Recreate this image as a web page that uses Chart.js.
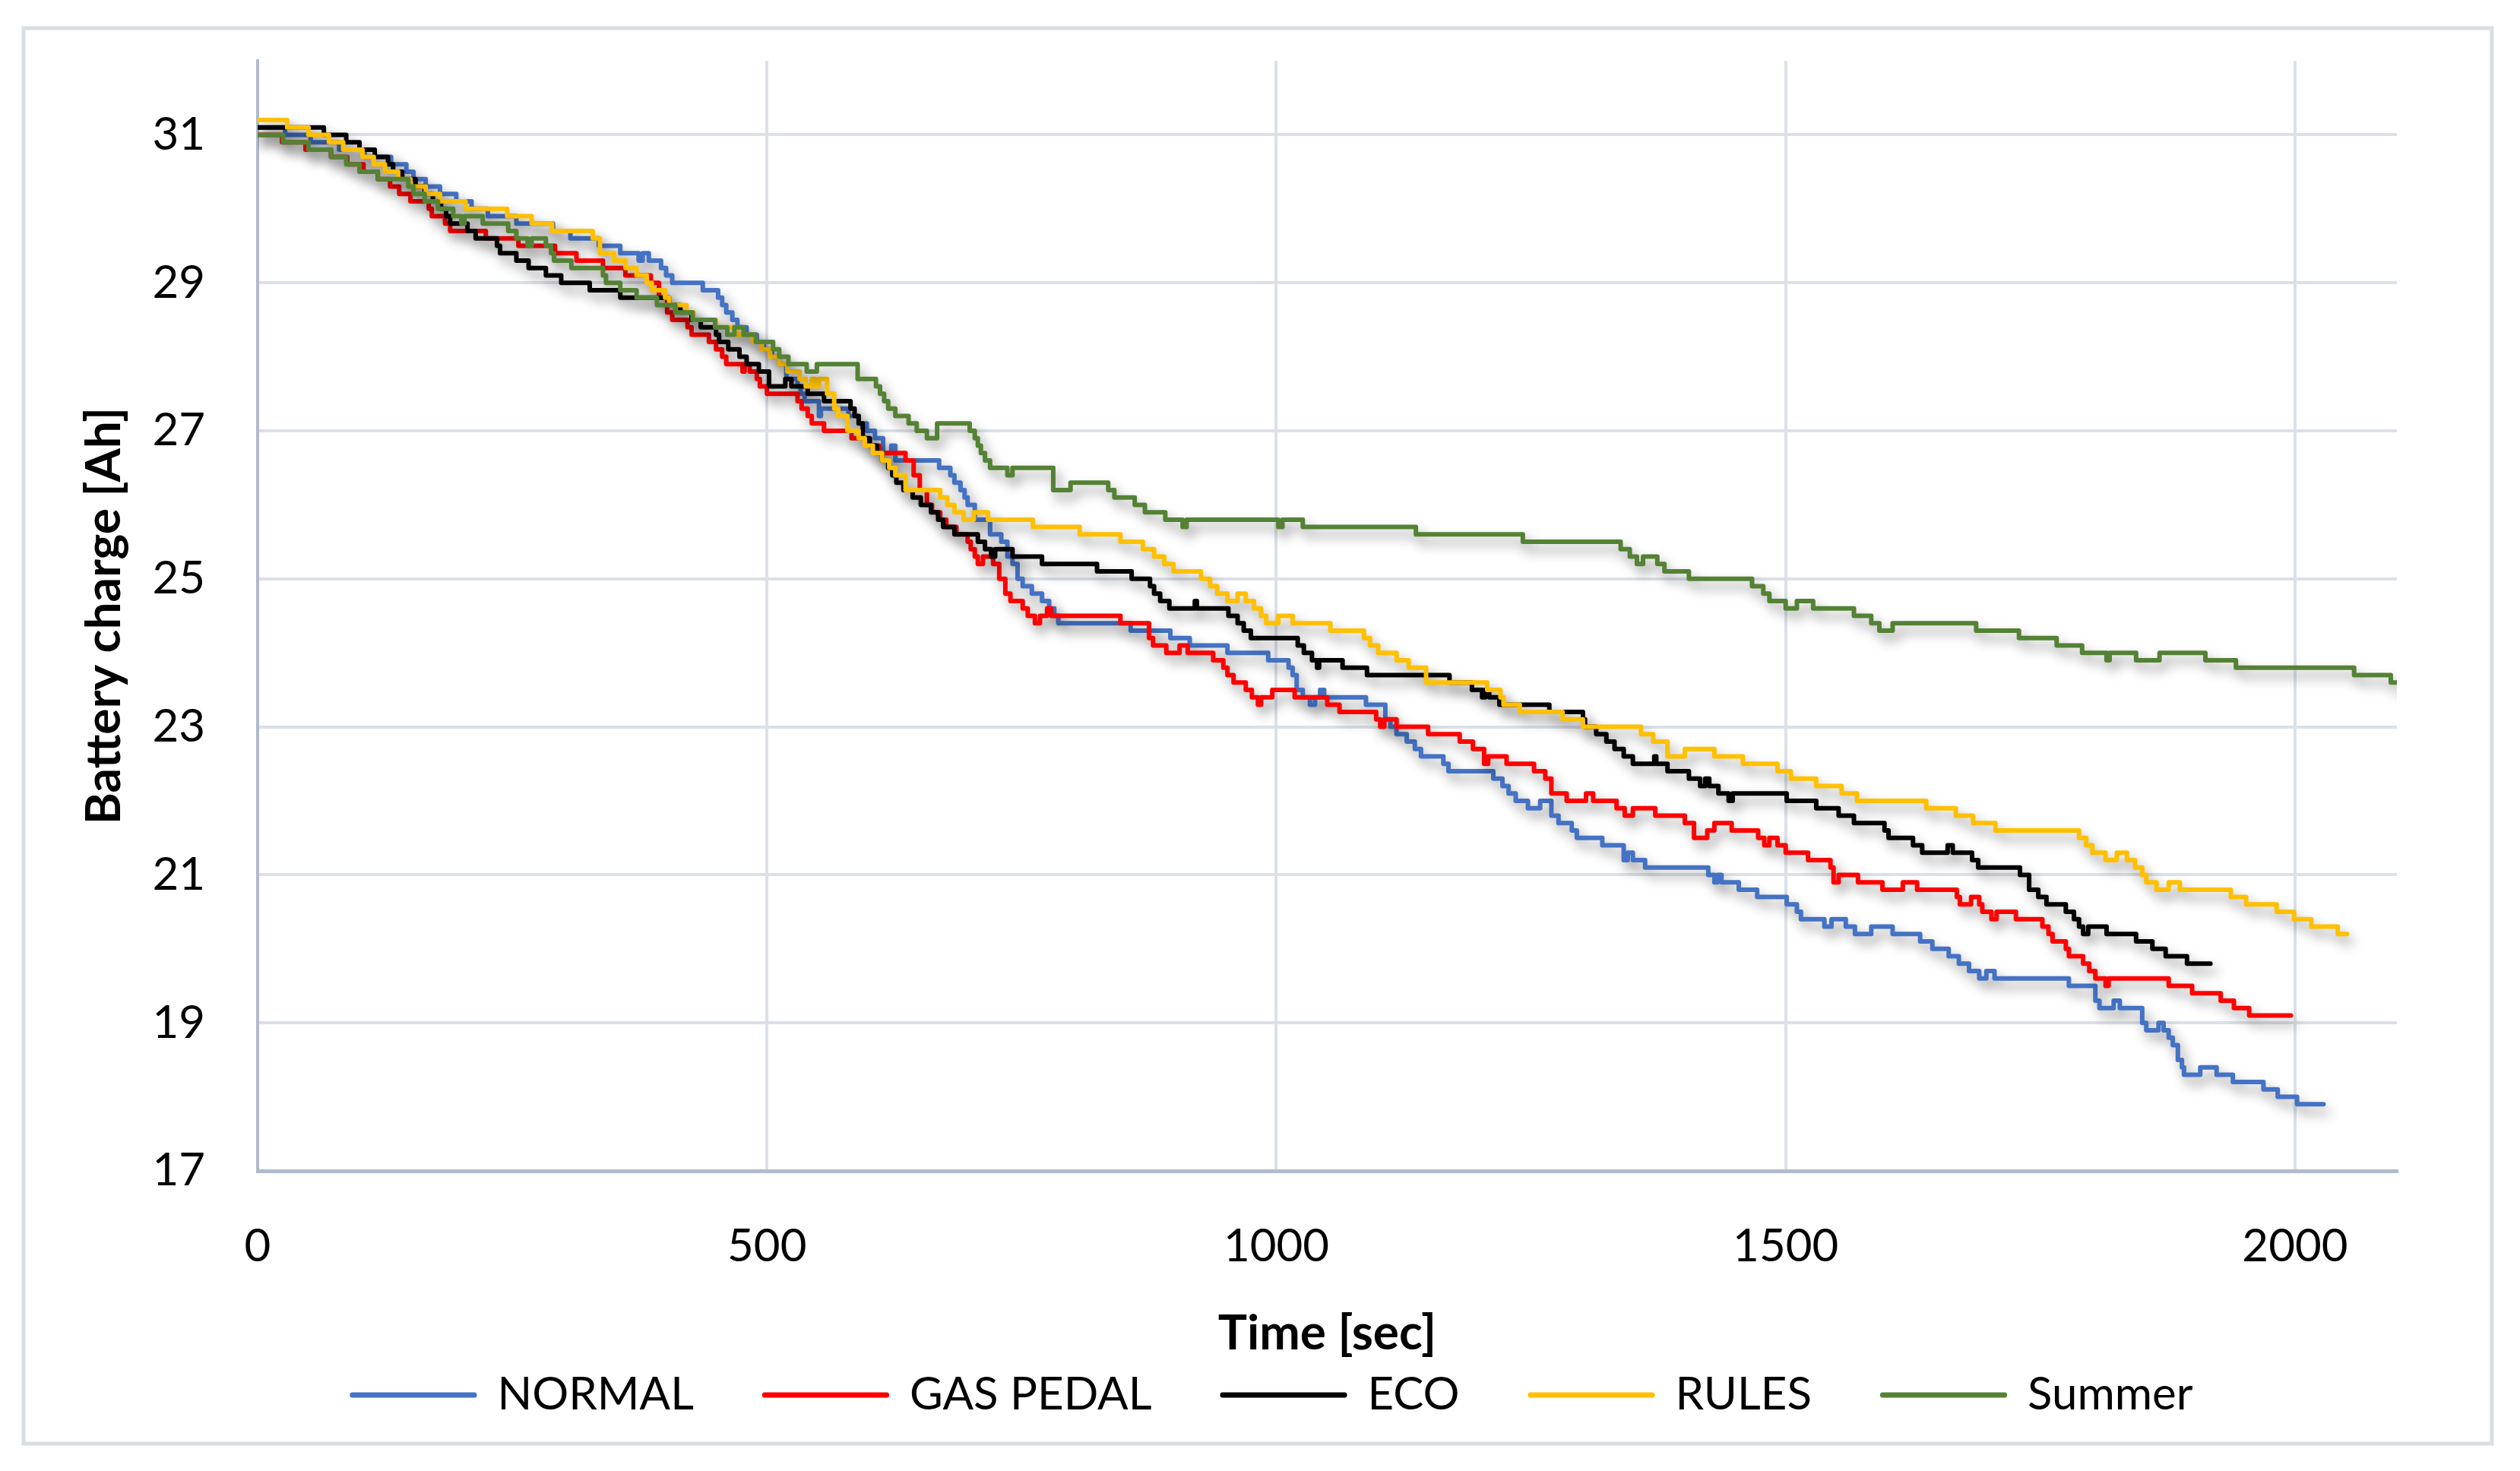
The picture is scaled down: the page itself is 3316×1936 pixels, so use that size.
<!DOCTYPE html>
<html lang="en">
<head>
<meta charset="UTF-8">
<title>Battery charge</title>
<script src="https://cdn.jsdelivr.net/npm/chart.js"></script>
<style>
  html, body { margin: 0; padding: 0; background: #fff; }
  #wrap { width: 3316px; height: 1936px; position: relative; }
</style>
</head>
<body>
<div id="wrap"><canvas id="batteryChart"></canvas></div>
<script>
// axis ticks
const xTicks = [0, 500, 1000, 1500, 2000];
const yTicks = [17, 19, 21, 23, 25, 27, 29, 31];

// NORMAL: time [sec] where the charge changes, and the new charge [Ah]
const normalT = [0, 27, 52, 80, 105, 131, 146, 153, 165, 179, 195, 210, 226, 254, 290, 307, 335, 356, 374, 378,
  384, 396, 401, 407, 437, 452, 456, 460, 466, 471, 480, 490, 497, 505, 512, 519, 530, 533, 537, 551,
  553, 580, 590, 598, 606, 614, 622, 626, 669, 680, 684, 690, 694, 697, 704, 719, 730, 736, 741, 746,
  751, 760, 770, 777, 782, 786, 857, 896, 915, 952, 992, 1012, 1016, 1020, 1026, 1033, 1038, 1043, 1047, 1088,
  1107, 1112, 1118, 1128, 1136, 1142, 1164, 1169, 1213, 1222, 1228, 1235, 1247, 1259, 1270, 1277, 1290, 1295, 1320, 1341,
  1345, 1350, 1362, 1424, 1430, 1433, 1437, 1454, 1472, 1501, 1511, 1515, 1538, 1545, 1559, 1568, 1584, 1605, 1632, 1644,
  1660, 1670, 1680, 1690, 1697, 1705, 1778, 1804, 1808, 1822, 1828, 1850, 1854, 1866, 1871, 1876, 1880, 1885, 1889, 1891,
  1907, 1923, 1939, 1969, 1983, 2002, 2028];
const normalV = [31.1, 31.0, 30.9, 30.8, 30.7, 30.6, 30.5, 30.4, 30.3, 30.2, 30.1, 30.0, 29.9, 29.8, 29.7, 29.6, 29.5, 29.4, 29.3, 29.4,
  29.3, 29.2, 29.1, 29.0, 28.9, 28.8, 28.7, 28.6, 28.5, 28.4, 28.3, 28.2, 28.1, 28.0, 27.9, 27.7, 27.6, 27.5, 27.4, 27.2,
  27.3, 27.2, 27.1, 27.0, 26.9, 26.7, 26.8, 26.6, 26.5, 26.4, 26.3, 26.2, 26.1, 26.0, 25.8, 25.6, 25.5, 25.3, 25.2, 25.0,
  24.9, 24.8, 24.7, 24.6, 24.5, 24.4, 24.3, 24.2, 24.1, 24.0, 23.9, 23.8, 23.7, 23.5, 23.4, 23.3, 23.4, 23.5, 23.4, 23.3,
  23.1, 23.0, 22.9, 22.8, 22.7, 22.6, 22.5, 22.4, 22.3, 22.2, 22.1, 22.0, 21.9, 22.0, 21.8, 21.7, 21.6, 21.5, 21.4, 21.2,
  21.3, 21.2, 21.1, 21.0, 20.9, 21.0, 20.9, 20.8, 20.7, 20.6, 20.5, 20.4, 20.3, 20.4, 20.3, 20.2, 20.3, 20.2, 20.1, 20.0,
  19.9, 19.8, 19.7, 19.6, 19.7, 19.6, 19.5, 19.3, 19.2, 19.3, 19.2, 19.0, 18.9, 19.0, 18.9, 18.8, 18.7, 18.5, 18.4, 18.3,
  18.4, 18.3, 18.2, 18.1, 18.0, 17.9, 17.9];

// GAS PEDAL
const gasT = [0, 24, 47, 72, 88, 104, 118, 130, 139, 150, 168, 171, 184, 189, 224, 256, 292, 313, 339, 361,
  386, 394, 402, 407, 422, 426, 443, 450, 456, 460, 476, 478, 483, 490, 493, 500, 530, 534, 540, 544,
  556, 583, 600, 610, 636, 644, 650, 657, 662, 670, 676, 686, 697, 700, 704, 707, 712, 722, 728, 734,
  739, 751, 756, 763, 768, 775, 779, 847, 875, 879, 892, 905, 913, 938, 948, 952, 958, 970, 976, 982,
  985, 996, 1018, 1050, 1062, 1098, 1102, 1106, 1118, 1149, 1180, 1193, 1204, 1208, 1226, 1253, 1264, 1270, 1285, 1304,
  1311, 1334, 1342, 1350, 1372, 1401, 1410, 1423, 1430, 1447, 1473, 1479, 1484, 1492, 1500, 1522, 1544, 1547, 1552, 1571,
  1595, 1615, 1629, 1668, 1671, 1682, 1690, 1693, 1702, 1707, 1726, 1752, 1758, 1762, 1775, 1778, 1792, 1798, 1804, 1814,
  1817, 1876, 1899, 1927, 1940, 1955, 1996];
const gasV = [31.0, 30.9, 30.8, 30.7, 30.6, 30.5, 30.4, 30.3, 30.2, 30.1, 30.0, 29.9, 29.8, 29.7, 29.6, 29.5, 29.4, 29.3, 29.2, 29.1,
  29.0, 28.8, 28.6, 28.5, 28.4, 28.3, 28.2, 28.1, 28.0, 27.9, 27.8, 27.9, 27.8, 27.7, 27.6, 27.5, 27.4, 27.3, 27.2, 27.1,
  27.0, 26.9, 26.8, 26.7, 26.6, 26.4, 26.2, 26.0, 25.9, 25.8, 25.7, 25.6, 25.5, 25.4, 25.3, 25.2, 25.3, 25.2, 25.0, 24.8,
  24.7, 24.6, 24.5, 24.4, 24.5, 24.6, 24.5, 24.4, 24.2, 24.1, 24.0, 24.1, 24.0, 23.9, 23.8, 23.7, 23.6, 23.5, 23.4, 23.3,
  23.4, 23.5, 23.4, 23.3, 23.2, 23.1, 23.0, 23.1, 23.0, 22.9, 22.8, 22.7, 22.5, 22.6, 22.5, 22.4, 22.3, 22.1, 22.0, 22.1,
  22.0, 21.9, 21.8, 21.9, 21.8, 21.7, 21.5, 21.6, 21.7, 21.6, 21.5, 21.4, 21.5, 21.4, 21.3, 21.2, 21.1, 20.9, 21.0, 20.9,
  20.8, 20.9, 20.8, 20.7, 20.6, 20.7, 20.6, 20.5, 20.4, 20.5, 20.4, 20.3, 20.2, 20.1, 20.0, 19.9, 19.8, 19.7, 19.6, 19.5,
  19.6, 19.5, 19.4, 19.3, 19.2, 19.1, 19.1];

// ECO
const ecoT = [0, 65, 87, 100, 115, 128, 133, 142, 155, 164, 172, 180, 185, 189, 206, 214, 235, 238, 254, 266,
  283, 298, 326, 356, 404, 415, 426, 435, 450, 453, 462, 473, 480, 492, 502, 518, 524, 540, 556, 582,
  586, 590, 594, 601, 608, 613, 619, 623, 627, 634, 643, 651, 661, 668, 673, 684, 707, 714, 720, 724,
  741, 770, 824, 858, 876, 880, 886, 895, 920, 922, 953, 962, 968, 975, 1021, 1027, 1035, 1040, 1042, 1065,
  1089, 1170, 1192, 1202, 1205, 1209, 1219, 1268, 1301, 1303, 1314, 1324, 1332, 1341, 1350, 1371, 1373, 1384, 1405, 1416,
  1421, 1425, 1434, 1444, 1448, 1501, 1530, 1552, 1567, 1597, 1601, 1625, 1634, 1659, 1664, 1683, 1689, 1730, 1739, 1748,
  1756, 1775, 1783, 1788, 1792, 1797, 1815, 1844, 1860, 1873, 1894, 1917];
const ecoV = [31.1, 31.0, 30.9, 30.8, 30.7, 30.6, 30.5, 30.4, 30.3, 30.2, 30.1, 30.0, 29.9, 29.8, 29.7, 29.6, 29.5, 29.4, 29.3, 29.2,
  29.1, 29.0, 28.9, 28.8, 28.7, 28.6, 28.5, 28.4, 28.3, 28.2, 28.1, 28.0, 27.9, 27.8, 27.6, 27.7, 27.6, 27.5, 27.4, 27.3,
  27.2, 27.1, 26.9, 26.8, 26.7, 26.6, 26.5, 26.4, 26.3, 26.2, 26.1, 26.0, 25.9, 25.8, 25.7, 25.6, 25.5, 25.4, 25.3, 25.4,
  25.3, 25.2, 25.1, 25.0, 24.9, 24.8, 24.7, 24.6, 24.7, 24.6, 24.5, 24.4, 24.3, 24.2, 24.1, 24.0, 23.9, 23.8, 23.9, 23.8,
  23.7, 23.6, 23.5, 23.4, 23.5, 23.4, 23.3, 23.2, 23.1, 23.0, 22.9, 22.8, 22.7, 22.6, 22.5, 22.6, 22.5, 22.4, 22.3, 22.2,
  22.3, 22.2, 22.1, 22.0, 22.1, 22.0, 21.9, 21.8, 21.7, 21.6, 21.5, 21.4, 21.3, 21.4, 21.3, 21.2, 21.1, 21.0, 20.8, 20.7,
  20.6, 20.5, 20.4, 20.3, 20.2, 20.3, 20.2, 20.1, 20.0, 19.9, 19.8, 19.8];

// RULES
const rulesT = [0, 29, 50, 70, 84, 103, 114, 125, 138, 150, 165, 179, 204, 245, 269, 289, 329, 336, 350, 361,
  372, 382, 387, 400, 404, 421, 428, 450, 470, 486, 495, 503, 512, 520, 532, 538, 544, 547, 551, 559,
  566, 570, 579, 590, 596, 604, 613, 620, 626, 636, 670, 677, 684, 693, 703, 717, 761, 807, 847, 869,
  880, 890, 899, 926, 935, 942, 952, 962, 970, 978, 985, 990, 1002, 1016, 1053, 1086, 1092, 1100, 1118, 1130,
  1147, 1207, 1220, 1223, 1239, 1281, 1301, 1358, 1370, 1384, 1401, 1430, 1458, 1492, 1505, 1530, 1555, 1570, 1638, 1667,
  1684, 1706, 1788, 1795, 1801, 1814, 1825, 1835, 1843, 1850, 1854, 1864, 1876, 1887, 1937, 1952, 1982, 1999, 2016, 2042,
  2051];
const rulesV = [31.2, 31.1, 31.0, 30.9, 30.8, 30.7, 30.6, 30.5, 30.4, 30.3, 30.2, 30.1, 30.0, 29.9, 29.8, 29.7, 29.6, 29.4, 29.3, 29.2,
  29.1, 29.0, 28.9, 28.8, 28.7, 28.6, 28.5, 28.4, 28.3, 28.2, 28.1, 28.0, 27.9, 27.8, 27.7, 27.6, 27.7, 27.6, 27.7, 27.5,
  27.3, 27.2, 27.0, 26.9, 26.8, 26.7, 26.6, 26.5, 26.4, 26.2, 26.1, 26.0, 25.9, 25.8, 25.9, 25.8, 25.7, 25.6, 25.5, 25.4,
  25.3, 25.2, 25.1, 25.0, 24.9, 24.8, 24.7, 24.8, 24.7, 24.6, 24.5, 24.4, 24.5, 24.4, 24.3, 24.2, 24.1, 24.0, 23.9, 23.8,
  23.6, 23.5, 23.4, 23.3, 23.2, 23.1, 23.0, 22.9, 22.8, 22.6, 22.7, 22.6, 22.5, 22.4, 22.3, 22.2, 22.1, 22.0, 21.9, 21.8,
  21.7, 21.6, 21.5, 21.4, 21.3, 21.2, 21.3, 21.2, 21.1, 21.0, 20.9, 20.8, 20.9, 20.8, 20.7, 20.6, 20.5, 20.4, 20.3, 20.2,
  20.2];

// Summer
const summerT = [0, 25, 50, 72, 87, 100, 118, 148, 153, 164, 177, 192, 200, 203, 221, 246, 254, 265, 269, 283,
  288, 291, 308, 339, 342, 356, 372, 392, 410, 427, 449, 461, 468, 477, 489, 506, 512, 521, 539, 549,
  589, 607, 611, 615, 619, 626, 639, 647, 657, 667, 699, 704, 707, 710, 714, 719, 736, 741, 781, 798,
  835, 841, 861, 871, 891, 908, 912, 1002, 1006, 1026, 1137, 1242, 1338, 1347, 1354, 1360, 1374, 1381, 1405, 1467,
  1478, 1484, 1500, 1511, 1527, 1567, 1584, 1592, 1605, 1687, 1729, 1766, 1791, 1815, 1818, 1844, 1867, 1912, 1942, 2058,
  2094, 2100];
const summerV = [31.0, 30.9, 30.8, 30.7, 30.6, 30.5, 30.4, 30.3, 30.2, 30.1, 30.0, 29.9, 29.8, 29.9, 29.8, 29.7, 29.6, 29.5, 29.6, 29.5,
  29.4, 29.3, 29.2, 29.1, 29.0, 28.9, 28.8, 28.7, 28.6, 28.5, 28.4, 28.3, 28.4, 28.3, 28.2, 28.1, 28.0, 27.9, 27.8, 27.9,
  27.7, 27.6, 27.5, 27.4, 27.3, 27.2, 27.1, 27.0, 26.9, 27.1, 27.0, 26.9, 26.8, 26.7, 26.6, 26.5, 26.4, 26.5, 26.2, 26.3,
  26.2, 26.1, 26.0, 25.9, 25.8, 25.7, 25.8, 25.7, 25.8, 25.7, 25.6, 25.5, 25.4, 25.3, 25.2, 25.3, 25.2, 25.1, 25.0, 24.9,
  24.8, 24.7, 24.6, 24.7, 24.6, 24.5, 24.4, 24.3, 24.4, 24.3, 24.2, 24.1, 24.0, 23.9, 24.0, 23.9, 24.0, 23.9, 23.8, 23.7,
  23.6, 23.6];

function toPoints(ts, vs) {
  return ts.map((t, i) => ({ x: t, y: vs[i] }));
}

const gridColor = '#dce1e8';
const axisColor = '#b0bccd';

// white background + light frame round the whole chart
const chartFrame = {
  id: 'chartFrame',
  beforeDraw(chart) {
    const ctx = chart.ctx;
    ctx.save();
    ctx.fillStyle = '#fff';
    ctx.fillRect(0, 0, chart.width, chart.height);
    ctx.strokeStyle = '#d9dde4';
    ctx.lineWidth = 5;
    ctx.strokeRect(31, 37, 3248, 1863);
    ctx.restore();
  }
};

// soft drop shadow under the lines
const lineShadow = {
  id: 'lineShadow',
  beforeDatasetsDraw(chart) {
    const ctx = chart.ctx;
    ctx.save();
    ctx.shadowColor = 'rgba(0, 0, 0, 0.4)';
    ctx.shadowBlur = 16;
    ctx.shadowOffsetX = 6;
    ctx.shadowOffsetY = 10;
  },
  afterDatasetsDraw(chart) {
    chart.ctx.restore();
  }
};

// legend sits a little right of the plot centre
const legendNudge = {
  id: 'legendNudge',
  afterLayout(chart) {
    chart.legend.left += 48;
    chart.legend.right += 48;
  }
};

function series(label, ts, vs, color, order) {
  return {
    label: label,
    data: toPoints(ts, vs),
    borderColor: color,
    backgroundColor: color,
    borderWidth: 6,
    borderCapStyle: 'round',
    borderJoinStyle: 'round',
    pointRadius: 0,
    stepped: true,
    fill: false,
    order: order
  };
}

Chart.defaults.font.family = 'Lato, "Open Sans", sans-serif';
Chart.defaults.color = '#000';

new Chart(document.getElementById('batteryChart'), {
  type: 'line',
  data: {
    datasets: [
      series('NORMAL', normalT, normalV, '#4472C4', 5),
      series('GAS PEDAL', gasT, gasV, '#FF0000', 4),
      series('ECO', ecoT, ecoV, '#000000', 3),
      series('RULES', rulesT, rulesV, '#FFC000', 2),
      series('Summer', summerT, summerV, '#548235', 1)
    ]
  },
  options: {
    responsive: true,
    maintainAspectRatio: false,
    devicePixelRatio: 1,
    animation: false,
    layout: { padding: { left: 99, right: 162, top: 80, bottom: 60 } },
    plugins: {
      tooltip: { enabled: false },
      legend: {
        position: 'bottom',
        reverse: true,
        labels: { boxWidth: 161, boxHeight: 1, padding: 93, color: '#000', font: { size: 60 } }
      }
    },
    scales: {
      x: {
        type: 'linear',
        min: 0,
        max: 2100,
        afterBuildTicks: s => { s.ticks = xTicks.map(v => ({ value: v })); },
        afterFit: s => { s.height = 172; },
        ticks: { padding: 64, color: '#000', font: { size: 60 }, callback: v => String(v) },
        grid: { color: gridColor, lineWidth: 4, drawTicks: false },
        border: { color: axisColor, width: 5 },
        title: {
          display: true,
          text: 'Time [sec]',
          color: '#000',
          font: { size: 64, weight: 'bold' },
          padding: { top: 0, bottom: -81 }
        }
      },
      y: {
        min: 17,
        max: 32,
        afterBuildTicks: s => { s.ticks = yTicks.map(v => ({ value: v })); },
        afterFit: s => { s.width = 240; s.paddingTop = 0; s.paddingBottom = 0; },
        ticks: { padding: 69, color: '#000', font: { size: 60 } },
        grid: { color: gridColor, lineWidth: 4, drawTicks: false },
        border: { color: axisColor, width: 4 },
        title: {
          display: true,
          text: 'Battery charge [Ah]',
          color: '#000',
          font: { size: 64, weight: 'bold' },
          padding: 0
        }
      }
    }
  },
  plugins: [chartFrame, lineShadow, legendNudge]
});
</script>
</body>
</html>
